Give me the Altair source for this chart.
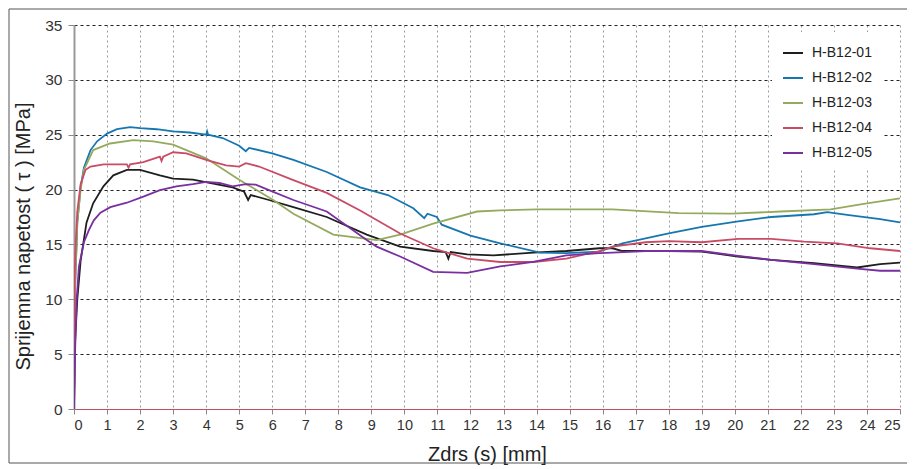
import altair as alt
import pandas as pd

# ---- data ----
series_names = ["H-B12-01", "H-B12-02", "H-B12-03", "H-B12-04", "H-B12-05"]
series_colors = ["#1e1e1e", "#1677b0", "#94aa5e", "#c94b66", "#7a2f9f"]

x_b01 = [0, 0.03, 0.1, 0.2, 0.38, 0.58, 0.89, 1.19, 1.6, 2.0, 2.6, 3.0, 3.6, 4.1, 4.8, 5.15, 5.27, 5.35, 5.9,
         6.64, 7.65, 8.86, 9.87, 10.87, 11.25, 11.33, 11.4, 11.9, 12.7, 13.9, 14.9, 15.9, 16.3, 16.6, 18.0, 19.0,
         20.1, 21.1, 22.4, 23.7, 24.4, 25.0]
y_b01 = [0, 6, 10, 13.5, 17.0, 18.75, 20.3, 21.3, 21.8, 21.8, 21.3, 21.0, 20.9, 20.6, 20.2, 19.8, 19.05, 19.5, 19.05,
         18.4, 17.5, 15.9, 14.8, 14.4, 14.3, 13.7, 14.3, 14.1, 14.0, 14.25, 14.4, 14.65, 14.65, 14.4, 14.4, 14.35,
         13.9, 13.6, 13.3, 12.9, 13.2, 13.35]

x_b02 = [0, 0.02, 0.1, 0.2, 0.3, 0.5, 0.7, 1.0, 1.3, 1.7, 2.0, 2.5, 3.0, 3.5, 4.0, 4.03, 4.06, 4.5, 5.0, 5.2, 5.3,
         6.0, 6.64, 7.65, 8.66, 9.5, 10.27, 10.6, 10.7, 10.98, 11.13, 12.0, 12.9, 14.1, 14.9, 15.9, 16.6, 18.0,
         19.0, 20.1, 21.1, 22.4, 22.8, 23.4, 24.4, 25.0]
y_b02 = [0, 10, 17, 20.2, 22.0, 23.6, 24.4, 25.1, 25.5, 25.7, 25.6, 25.5, 25.3, 25.2, 25.0, 25.3, 25.0, 24.7, 24.0,
         23.5, 23.8, 23.3, 22.7, 21.6, 20.2, 19.5, 18.3, 17.4, 17.8, 17.5, 16.8, 15.8, 15.1, 14.25, 14.2, 14.35,
         15.1, 16.0, 16.6, 17.1, 17.5, 17.75, 17.95, 17.7, 17.3, 17.0]

x_b03 = [0, 0.02, 0.1, 0.2, 0.3, 0.58, 1.09, 1.8, 2.4, 3.0, 4.0, 5.0, 6.03, 6.64, 7.85, 9.16, 9.87, 10.87, 12.2,
         12.9, 14.0, 15.9, 16.3, 18.3, 19.9, 21.4, 22.9, 23.9, 25.0]
y_b03 = [0, 10, 17, 20, 21.8, 23.6, 24.2, 24.5, 24.4, 24.1, 22.85, 20.9, 19.05, 17.8, 15.9, 15.4, 15.9, 16.9, 18.0,
         18.1, 18.2, 18.2, 18.2, 17.85, 17.8, 18.0, 18.2, 18.7, 19.2]

x_b04 = [0, 0.02, 0.05, 0.1, 0.2, 0.35, 0.5, 0.9, 1.6, 1.65, 1.7, 2.1, 2.6, 2.65, 2.7, 3.0, 3.4, 4.0, 4.6, 5.0,
         5.2, 5.6, 6.6, 7.65, 8.66, 9.87, 10.87, 11.9, 12.9, 13.9, 14.9, 15.9, 16.3, 17.3, 18.0, 19.0, 20.1, 21.1,
         22.1, 23.1, 24.1, 25.0]
y_b04 = [0, 12, 15, 18, 20.5, 21.8, 22.1, 22.3, 22.3, 22.0, 22.3, 22.5, 23.0, 22.6, 23.0, 23.4, 23.3, 22.7, 22.2,
         22.1, 22.4, 22.1, 20.9, 19.7, 18.1, 16.0, 14.65, 13.7, 13.4, 13.4, 13.7, 14.4, 14.8, 15.2, 15.3, 15.2,
         15.5, 15.5, 15.25, 15.1, 14.65, 14.4]

x_b05 = [0, 0.03, 0.08, 0.15, 0.3, 0.45, 0.6, 0.8, 1.1, 1.6, 2.1, 2.6, 3.1, 3.6, 4.0, 4.4, 4.8, 5.2, 5.5, 5.9,
         6.64, 7.65, 8.86, 9.16, 9.87, 10.87, 11.9, 12.9, 13.9, 14.9, 15.9, 16.3, 17.3, 19.0, 20.1, 21.1, 22.4,
         23.7, 24.4, 25.0]
y_b05 = [0, 5, 10, 13, 15.2, 16.3, 17.2, 17.9, 18.4, 18.8, 19.35, 19.95, 20.3, 20.5, 20.7, 20.6, 20.3, 20.5, 20.45,
         19.95, 19.05, 18.0, 15.4, 14.8, 13.9, 12.5, 12.4, 13.0, 13.4, 14.0, 14.2, 14.25, 14.4, 14.4, 13.95, 13.6,
         13.2, 12.8, 12.6, 12.6]

x_ticks = list(range(0, 26))
y_ticks = [0, 5, 10, 15, 20, 25, 30, 35]

xs = [x_b01, x_b02, x_b03, x_b04, x_b05]
ys = [y_b01, y_b02, y_b03, y_b04, y_b05]

rows = []
for name, xv, yv in zip(series_names, xs, ys):
    for i, (a, b) in enumerate(zip(xv, yv)):
        rows.append({"series": name, "s": a, "tau": b, "order": i})
df = pd.DataFrame(rows)

FONT = "Liberation Sans"
W, H = 826, 384

lines = alt.Chart(df).mark_line(strokeWidth=1.8, clip=True).encode(
    x=alt.X("s:Q", scale=alt.Scale(domain=[0, 25], nice=False),
            axis=alt.Axis(values=x_ticks, title="Zdrs (s) [mm]", grid=True,
                          gridDash=[2, 3], gridColor="#9a9a9a", gridWidth=1,
                          domainColor="#c0505a", domainWidth=1.2,
                          tickColor="#888888", tickSize=5,
                          labelFontSize=14.5, labelPadding=4, titlePadding=13)),
    y=alt.Y("tau:Q", scale=alt.Scale(domain=[0, 35], nice=False),
            axis=alt.Axis(values=y_ticks, title="Sprijemna napetost ( τ ) [MPa]", grid=True,
                          gridDash=[3, 3], gridColor="#222222", gridWidth=1,
                          domainColor="#999999", domainWidth=2,
                          tickColor="#888888", tickSize=6,
                          labelFontSize=15.5, labelPadding=6, titlePadding=11, titleY=211)),
    color=alt.Color("series:N", scale=alt.Scale(domain=series_names, range=series_colors),
                    legend=alt.Legend(title=None, orient="none", legendX=698, legendY=7,
                                      fillColor="white", padding=10, symbolType="stroke",
                                      symbolSize=400, symbolStrokeWidth=2, labelFontSize=14,
                                      labelFont=FONT, labelColor="#222222", rowPadding=7,
                                      labelOffset=8)),
    order="order:Q",
    detail="series:N",
)

frame = alt.Chart(pd.DataFrame({"a": [0]})).mark_rect(
    fill=None, stroke="#555555", strokeWidth=1
).encode(x=alt.value(-65), x2=alt.value(W + 8), y=alt.value(-16), y2=alt.value(H + 54))

chart = alt.layer(frame, lines).properties(
    width=W, height=H,
    autosize=alt.AutoSizeParams(type="none"),
    padding={"left": 66, "top": 17, "right": 7, "bottom": 57},
).configure_view(stroke=None).configure_axis(
    labelFont=FONT, titleFont=FONT, titleFontSize=20,
    labelColor="#333333", titleColor="#222222", titleFontWeight="normal",
)

chart.save("out.html", embed_options={"renderer": "svg", "actions": False})
